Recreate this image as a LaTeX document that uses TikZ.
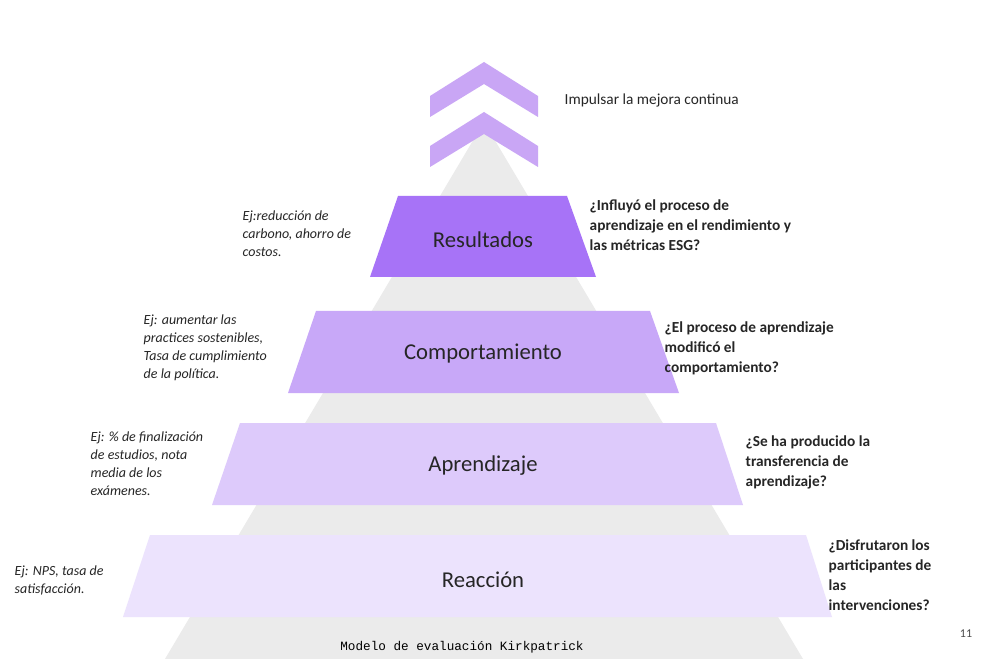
\documentclass[tikz,border=0pt]{standalone}
\usepackage{fontspec}
\setmainfont{Carlito}
\setmonofont{Liberation Mono}
\begin{document}
\begin{tikzpicture}[x=0.75pt,y=-0.75pt,
  lvl/.style={font=\fontsize{17}{20}\selectfont,text=black!85},
  rq/.style={font=\bfseries\fontsize{11.5}{15}\selectfont,align=left,anchor=west,text=black!85},
  lq/.style={font=\itshape\fontsize{10.5}{13.5}\selectfont,align=left,anchor=west,text=black!85}]
\useasboundingbox (0,0) rectangle (996,659);
\fill[white] (0,0) rectangle (996,659);
% background pyramid
\fill[gray!15!white,fill=black!8] (484,122) -- (803,659) -- (165,659) -- cycle;
% chevrons
\foreach \y in {62,112}{
 \fill[violet!35!white,fill={rgb,255:red,201;green,166;blue,245}]
  (484,\y) -- (538,\y+34) -- (538,\y+55) -- (484,\y+22) -- (430,\y+55) -- (430,\y+34) -- cycle;}
\definecolor{c1}{RGB}{167,115,247}
\definecolor{c2}{RGB}{200,168,248}
\definecolor{c3}{RGB}{221,202,251}
\definecolor{c4}{RGB}{236,227,253}
\fill[c1] (398,196) -- (567,196) -- (596,277) -- (370,277) -- cycle;
\fill[c2] (316,311) -- (650,311) -- (679,393) -- (288,393) -- cycle;
\fill[c3] (240,423) -- (716,423) -- (743,505) -- (212,505) -- cycle;
\fill[c4] (150,535) -- (806,535) -- (832,617) -- (123,617) -- cycle;
\node[lvl] (l1) at (483,240) {Resultados};
\node[lvl] (l2) at (483,354) {Comportamiento};
\node[lvl] (l3) at (483,466) {Aprendizaje};
\node[lvl] (l4) at (483,580) {Reacción};
\node[rq,font=\fontsize{11.5}{15}\selectfont] (t0) at (560,100) {Impulsar la mejora continua};
\node[rq] (r1) at (585,225) {¿Influyó el proceso de\\aprendizaje en el rendimiento y\\las métricas ESG?};
\node[rq] (r2) at (660,348) {¿El proceso de aprendizaje\\modificó el\\comportamiento?};
\node[rq] (r3) at (741,462) {¿Se ha producido la\\transferencia de\\aprendizaje?};
\node[rq] (r4) at (824,575) {¿Disfrutaron los\\participantes de\\las\\intervenciones?};
\node[lq] (q1) at (238,234) {Ej:reducción de\\carbono, ahorro de\\costos.};
\node[lq] (q2) at (139,348) {Ej: aumentar las\\practices sostenibles,\\Tasa de cumplimiento\\de la política.};
\node[lq] (q3) at (86,464) {Ej: \% de finalización\\de estudios, nota\\media de los\\exámenes.};
\node[lq] (q4) at (10,580) {Ej: NPS, tasa de\\satisfacción.};
\node[font=\ttfamily\fontsize{9.5}{11}\selectfont] (cap) at (462,647) {Modelo de evaluación Kirkpatrick};
\node[font=\fontsize{9}{11}\selectfont,text=black!70] (pg) at (966,634) {11};
\end{tikzpicture}
\end{document}
